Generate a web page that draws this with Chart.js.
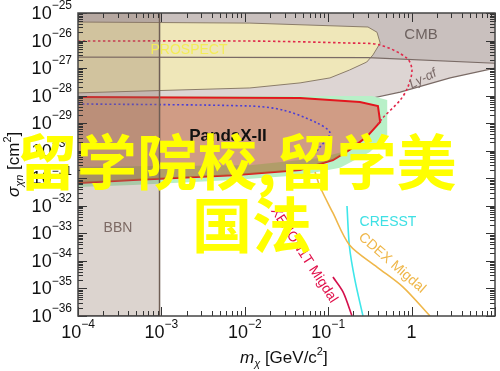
<!DOCTYPE html>
<html>
<head>
<meta charset="utf-8">
<script src="https://cdn.jsdelivr.net/npm/chart.js@4.4.1/dist/chart.umd.min.js"></script>
<style>
  html, body { margin: 0; padding: 0; background: #fff; }
  canvas { display: block; }
</style>
</head>
<body>
<canvas id="chart" width="500" height="371"></canvas>
<script>
// mass in GeV/c^2, cross section in cm^2
const bbnMass = [1e-4, 9.5e-4, 9.5e-4, 1e-4];
const bbnSigma = [1e-36, 1e-36, 1e-25, 1e-25];

const cmbMass = [1e-4, 10, 10, 0.3, 1e-4];
const cmbSigma = [1e-25, 1e-25, 1.5e-27, 2.4e-27, 2.5e-27];
const cmbEdgeMass = [1e-4, 0.3, 10];
const cmbEdgeSigma = [2.5e-27, 2.4e-27, 1.5e-27];

const lyaMass = [1e-4, 10, 10, 2.9, 0.73, 0.18, 0.0115, 1e-4];
const lyaSigma = [1e-25, 1e-25, 1e-27, 4.4e-28, 1.35e-28, 5.4e-29, 3.5e-29, 6.8e-30];

const surfMass = [1e-4, 0.0115, 0.30, 0.385, 0.42, 0.344, 0.29, 0.18, 0.105, 0.046, 0.0115, 1e-4];
const surfSigma = [4.7e-26, 4.3e-26, 3.1e-26, 2.0e-26, 8.1e-27, 3.0e-27, 1.66e-27, 8.5e-28, 4.4e-28, 2.9e-28, 1.9e-28, 1.26e-28];

const mintMass = [1e-4, 0.335, 0.51, 0.51, 0.317, 0.139, 0.046, 0.0072, 4.6e-4, 1e-4];
const mintSigma = [9.8e-29, 9.8e-29, 6.9e-29, 3.7e-30, 8.9e-31, 2.4e-31, 1.3e-31, 8.7e-32, 5.7e-32, 4.8e-32];

const pandaMass = [1e-4, 0.046, 0.24, 0.395, 0.42, 0.29, 0.18, 0.114, 0.046, 0.0072, 4.6e-4, 1e-4];
const pandaSigma = [8.9e-29, 8.2e-29, 5.9e-29, 4.2e-29, 1.1e-29, 3.2e-30, 1.07e-30, 4.6e-31, 2.0e-31, 1.3e-31, 8.7e-32, 6.8e-32];

const oliveMass = [1e-4, 0.0115, 0.080, 0.18, 0.114, 0.046, 0.0072, 4.6e-4, 1e-4];
const oliveSigma = [2.6e-31, 3.0e-31, 5.5e-31, 1.07e-30, 4.6e-31, 2.0e-31, 1.3e-31, 8.7e-32, 6.8e-32];

const blueMass = [1e-4, 0.0115, 0.0287, 0.0735, 0.105, 0.080, 0.0557];
const blueSigma = [5.0e-29, 4.2e-29, 3.0e-29, 1.02e-29, 4.4e-30, 1.38e-30, 3.6e-31];

const prospectMass = [1e-4, 0.0115, 0.18, 0.42, 0.88, 1.01, 0.90, 0.73, 0.45, 0.395];
const prospectSigma = [9.6e-27, 9.6e-27, 8.1e-27, 6.9e-27, 2.3e-27, 8.5e-28, 2.0e-28, 6.9e-29, 1.55e-29, 9.3e-30];

const cresstMass = [0.168, 0.18, 0.209, 0.261];
const cresstSigma = [9.8e-33, 3.2e-34, 2.05e-35, 1e-36];

const cdexMass = [0.0695, 0.080, 0.114, 0.18, 0.385, 0.79, 1.66];
const cdexSigma = [1.7e-31, 4.8e-32, 5.5e-33, 3.8e-34, 6.0e-35, 1.12e-35, 1e-36];

const xenonMass = [0.114, 0.151, 0.193];
const xenonSigma = [2.6e-35, 7.4e-36, 1e-36];

const xTickExp = [-4, -3, -2, -1, 0];
const yTickExp = [-25, -26, -27, -28, -29, -30, -31, -32, -33, -34, -35, -36];

const pts = (m, s) => m.map((x, i) => ({ x: x, y: s[i] }));

// bottom to top
const layers = [
  { data: pts(lyaMass, lyaSigma), fill: 'shape', backgroundColor: '#ddd5d3', borderColor: '#7a6b66', borderWidth: 1.2 },
  { data: pts(cmbMass, cmbSigma), fill: 'shape', backgroundColor: '#c9c0be', borderWidth: 0 },
  { data: pts(surfMass, surfSigma), fill: 'shape', backgroundColor: '#efe7b9', borderColor: '#8b7d6a', borderWidth: 1 },
  { data: pts(cmbEdgeMass, cmbEdgeSigma), fill: false, borderColor: '#7a6b66', borderWidth: 1.2 },
  { data: pts(mintMass, mintSigma), fill: 'shape', backgroundColor: '#b8f0c8', borderWidth: 0 },
  { data: pts(pandaMass, pandaSigma), fill: 'shape', backgroundColor: 'rgba(240,40,40,0.42)', borderColor: '#e3161e', borderWidth: 2 },
  { data: pts(oliveMass, oliveSigma), fill: 'shape', backgroundColor: 'rgba(140,160,70,0.45)', borderWidth: 0 },
  { data: pts(blueMass, blueSigma), fill: false, borderColor: '#4b3fd6', borderWidth: 1.6, borderDash: [2, 2.5], tension: 0.3 },
  { data: pts(prospectMass, prospectSigma), fill: false, borderColor: '#e0284a', borderWidth: 1.6, borderDash: [2.5, 2.5], tension: 0.3 },
  { data: pts(cresstMass, cresstSigma), fill: false, borderColor: '#3ee6ea', borderWidth: 1.6, tension: 0.3 },
  { data: pts(cdexMass, cdexSigma), fill: false, borderColor: '#efb74a', borderWidth: 1.6, tension: 0.3 },
  { data: pts(xenonMass, xenonSigma), fill: false, borderColor: '#d4104c', borderWidth: 1.6, tension: 0.3 },
  { data: pts(bbnMass, bbnSigma), fill: 'shape', backgroundColor: 'rgba(138,112,96,0.3)', borderColor: '#6f5e55', borderWidth: 1.5 }
];
layers.forEach((d, i) => { d.order = layers.length - i; });

const FONT = '"Liberation Sans", Arial, sans-serif';

function drawPower(ctx, exp, x, y, align) {
  if (exp === 0) {
    ctx.font = '18px ' + FONT;
    ctx.textAlign = 'center';
    ctx.fillText('1', x, y);
    return;
  }
  const sup = String(exp).replace('-', '\u2212');
  ctx.font = '18px ' + FONT;
  const wb = ctx.measureText('10').width;
  ctx.font = '12px ' + FONT;
  const ws = ctx.measureText(sup).width;
  const left = align === 'right' ? x - wb - ws : x - (wb + ws) / 2;
  ctx.textAlign = 'left';
  ctx.font = '18px ' + FONT;
  ctx.fillText('10', left, y);
  ctx.font = '12px ' + FONT;
  ctx.fillText(sup, left + wb, y - 8);
}

function label(ctx, text, x, y, color, font, angle) {
  ctx.save();
  ctx.translate(x, y);
  if (angle) ctx.rotate(angle * Math.PI / 180);
  ctx.fillStyle = color;
  ctx.font = font;
  ctx.textAlign = 'center';
  ctx.textBaseline = 'middle';
  ctx.fillText(text, 0, 0);
  ctx.restore();
}

const decorations = {
  id: 'decorations',
  afterDatasetsDraw(chart) {
    const ctx = chart.ctx;
    label(ctx, 'CMB', 421, 35, '#6e6260', '15px ' + FONT);
    label(ctx, 'PROSPECT', 189, 50, '#f3ec5a', '14px ' + FONT);
    label(ctx, 'Ly-\u03b1f', 423, 79, '#7a6a68', 'italic 13px ' + FONT, -27);
    label(ctx, 'PandaX-II', 228, 136, '#111', 'bold 17px ' + FONT);
    label(ctx, 'BBN', 118, 228, '#7d6a64', '14px ' + FONT);
    label(ctx, 'CRESST', 388, 222, '#3ee0e4', '14px ' + FONT);
    label(ctx, 'CDEX Migdal', 392, 263, '#efb74a', '14px ' + FONT, 41);
    label(ctx, 'XENON1T Migdal', 304, 255, '#e0104a', '14px ' + FONT, 57);
  },
  afterDraw(chart) {
    const ctx = chart.ctx;
    const a = chart.chartArea;
    const xs = chart.scales.x, ys = chart.scales.y;
    ctx.save();
    ctx.strokeStyle = '#333';
    ctx.lineWidth = 1;
    // y ticks (left and right)
    for (let e = -36; e <= -25; e++) {
      for (let k = 1; k <= 9; k++) {
        const v = k * Math.pow(10, e);
        if (v > 1.0001e-25) break;
        const py = Math.round(ys.getPixelForValue(v)) + 0.5;
        const len = k === 1 ? 9 : 5;
        ctx.beginPath();
        ctx.moveTo(a.left, py); ctx.lineTo(a.left + len, py);
        ctx.moveTo(a.right, py); ctx.lineTo(a.right - len, py);
        ctx.stroke();
      }
    }
    // x ticks (bottom and top)
    for (let e = -4; e <= 1; e++) {
      for (let k = 1; k <= 9; k++) {
        const v = k * Math.pow(10, e);
        if (v > 10.001) break;
        const px = Math.round(xs.getPixelForValue(v)) + 0.5;
        const len = k === 1 ? 9 : 5;
        ctx.beginPath();
        ctx.moveTo(px, a.bottom); ctx.lineTo(px, a.bottom - len);
        ctx.moveTo(px, a.top); ctx.lineTo(px, a.top + len);
        ctx.stroke();
      }
    }
    // frame
    ctx.strokeStyle = '#444';
    ctx.lineWidth = 1.5;
    ctx.strokeRect(a.left, a.top, a.right - a.left, a.bottom - a.top);

    // tick labels
    ctx.fillStyle = '#111';
    ctx.textBaseline = 'middle';
    yTickExp.forEach(e => drawPower(ctx, e, 72, ys.getPixelForValue(Math.pow(10, e)) + 1, 'right'));
    xTickExp.forEach(e => drawPower(ctx, e, xs.getPixelForValue(Math.pow(10, e)), 333, 'center'));

    // x title
    ctx.textBaseline = 'alphabetic';
    ctx.textAlign = 'left';
    let x = 240;
    const by = 363;
    ctx.font = 'italic 17px ' + FONT; ctx.fillText('m', x, by); x += ctx.measureText('m').width;
    ctx.font = 'italic 11px ' + FONT; ctx.fillText('\u03c7', x, by + 4); x += ctx.measureText('\u03c7').width;
    ctx.font = '17px ' + FONT; ctx.fillText(' [GeV/c', x, by); x += ctx.measureText(' [GeV/c').width;
    ctx.font = '11px ' + FONT; ctx.fillText('2', x, by - 8); x += ctx.measureText('2').width;
    ctx.font = '17px ' + FONT; ctx.fillText(']', x, by);

    // y title
    ctx.save();
    ctx.translate(19, 197);
    ctx.rotate(-Math.PI / 2);
    x = 0;
    ctx.font = 'italic 17px ' + FONT; ctx.fillText('\u03c3', x, 0); x += ctx.measureText('\u03c3').width;
    ctx.font = 'italic 11px ' + FONT; ctx.fillText('\u03c7n', x, 4); x += ctx.measureText('\u03c7n').width;
    ctx.font = '17px ' + FONT; ctx.fillText(' [cm', x, 0); x += ctx.measureText(' [cm').width;
    ctx.font = '11px ' + FONT; ctx.fillText('2', x, -8); x += ctx.measureText('2').width;
    ctx.font = '17px ' + FONT; ctx.fillText(']', x, 0);
    ctx.restore();

    // overlay caption
    ctx.fillStyle = '#ffff00';
    ctx.font = 'bold 60px "Noto Sans CJK SC", sans-serif';
    ctx.textBaseline = 'middle';
    ctx.textAlign = 'left';
    ctx.fillText('留学院校,留学美', 17, 162);
    ctx.textAlign = 'center';
    ctx.fillText('国法', 252, 225);
    ctx.restore();
  }
};

new Chart(document.getElementById('chart'), {
  type: 'line',
  data: { datasets: layers },
  options: {
    responsive: false,
    animation: false,
    devicePixelRatio: 1,
    layout: { padding: { left: 78, right: 5, top: 13, bottom: 55 } },
    elements: { point: { radius: 0, hoverRadius: 0 }, line: { tension: 0 } },
    scales: {
      x: { type: 'logarithmic', min: 1e-4, max: 10, display: false },
      y: { type: 'logarithmic', min: 1e-36, max: 1e-25, display: false }
    },
    plugins: { legend: { display: false }, tooltip: { enabled: false } }
  },
  plugins: [decorations]
});
</script>
</body>
</html>
